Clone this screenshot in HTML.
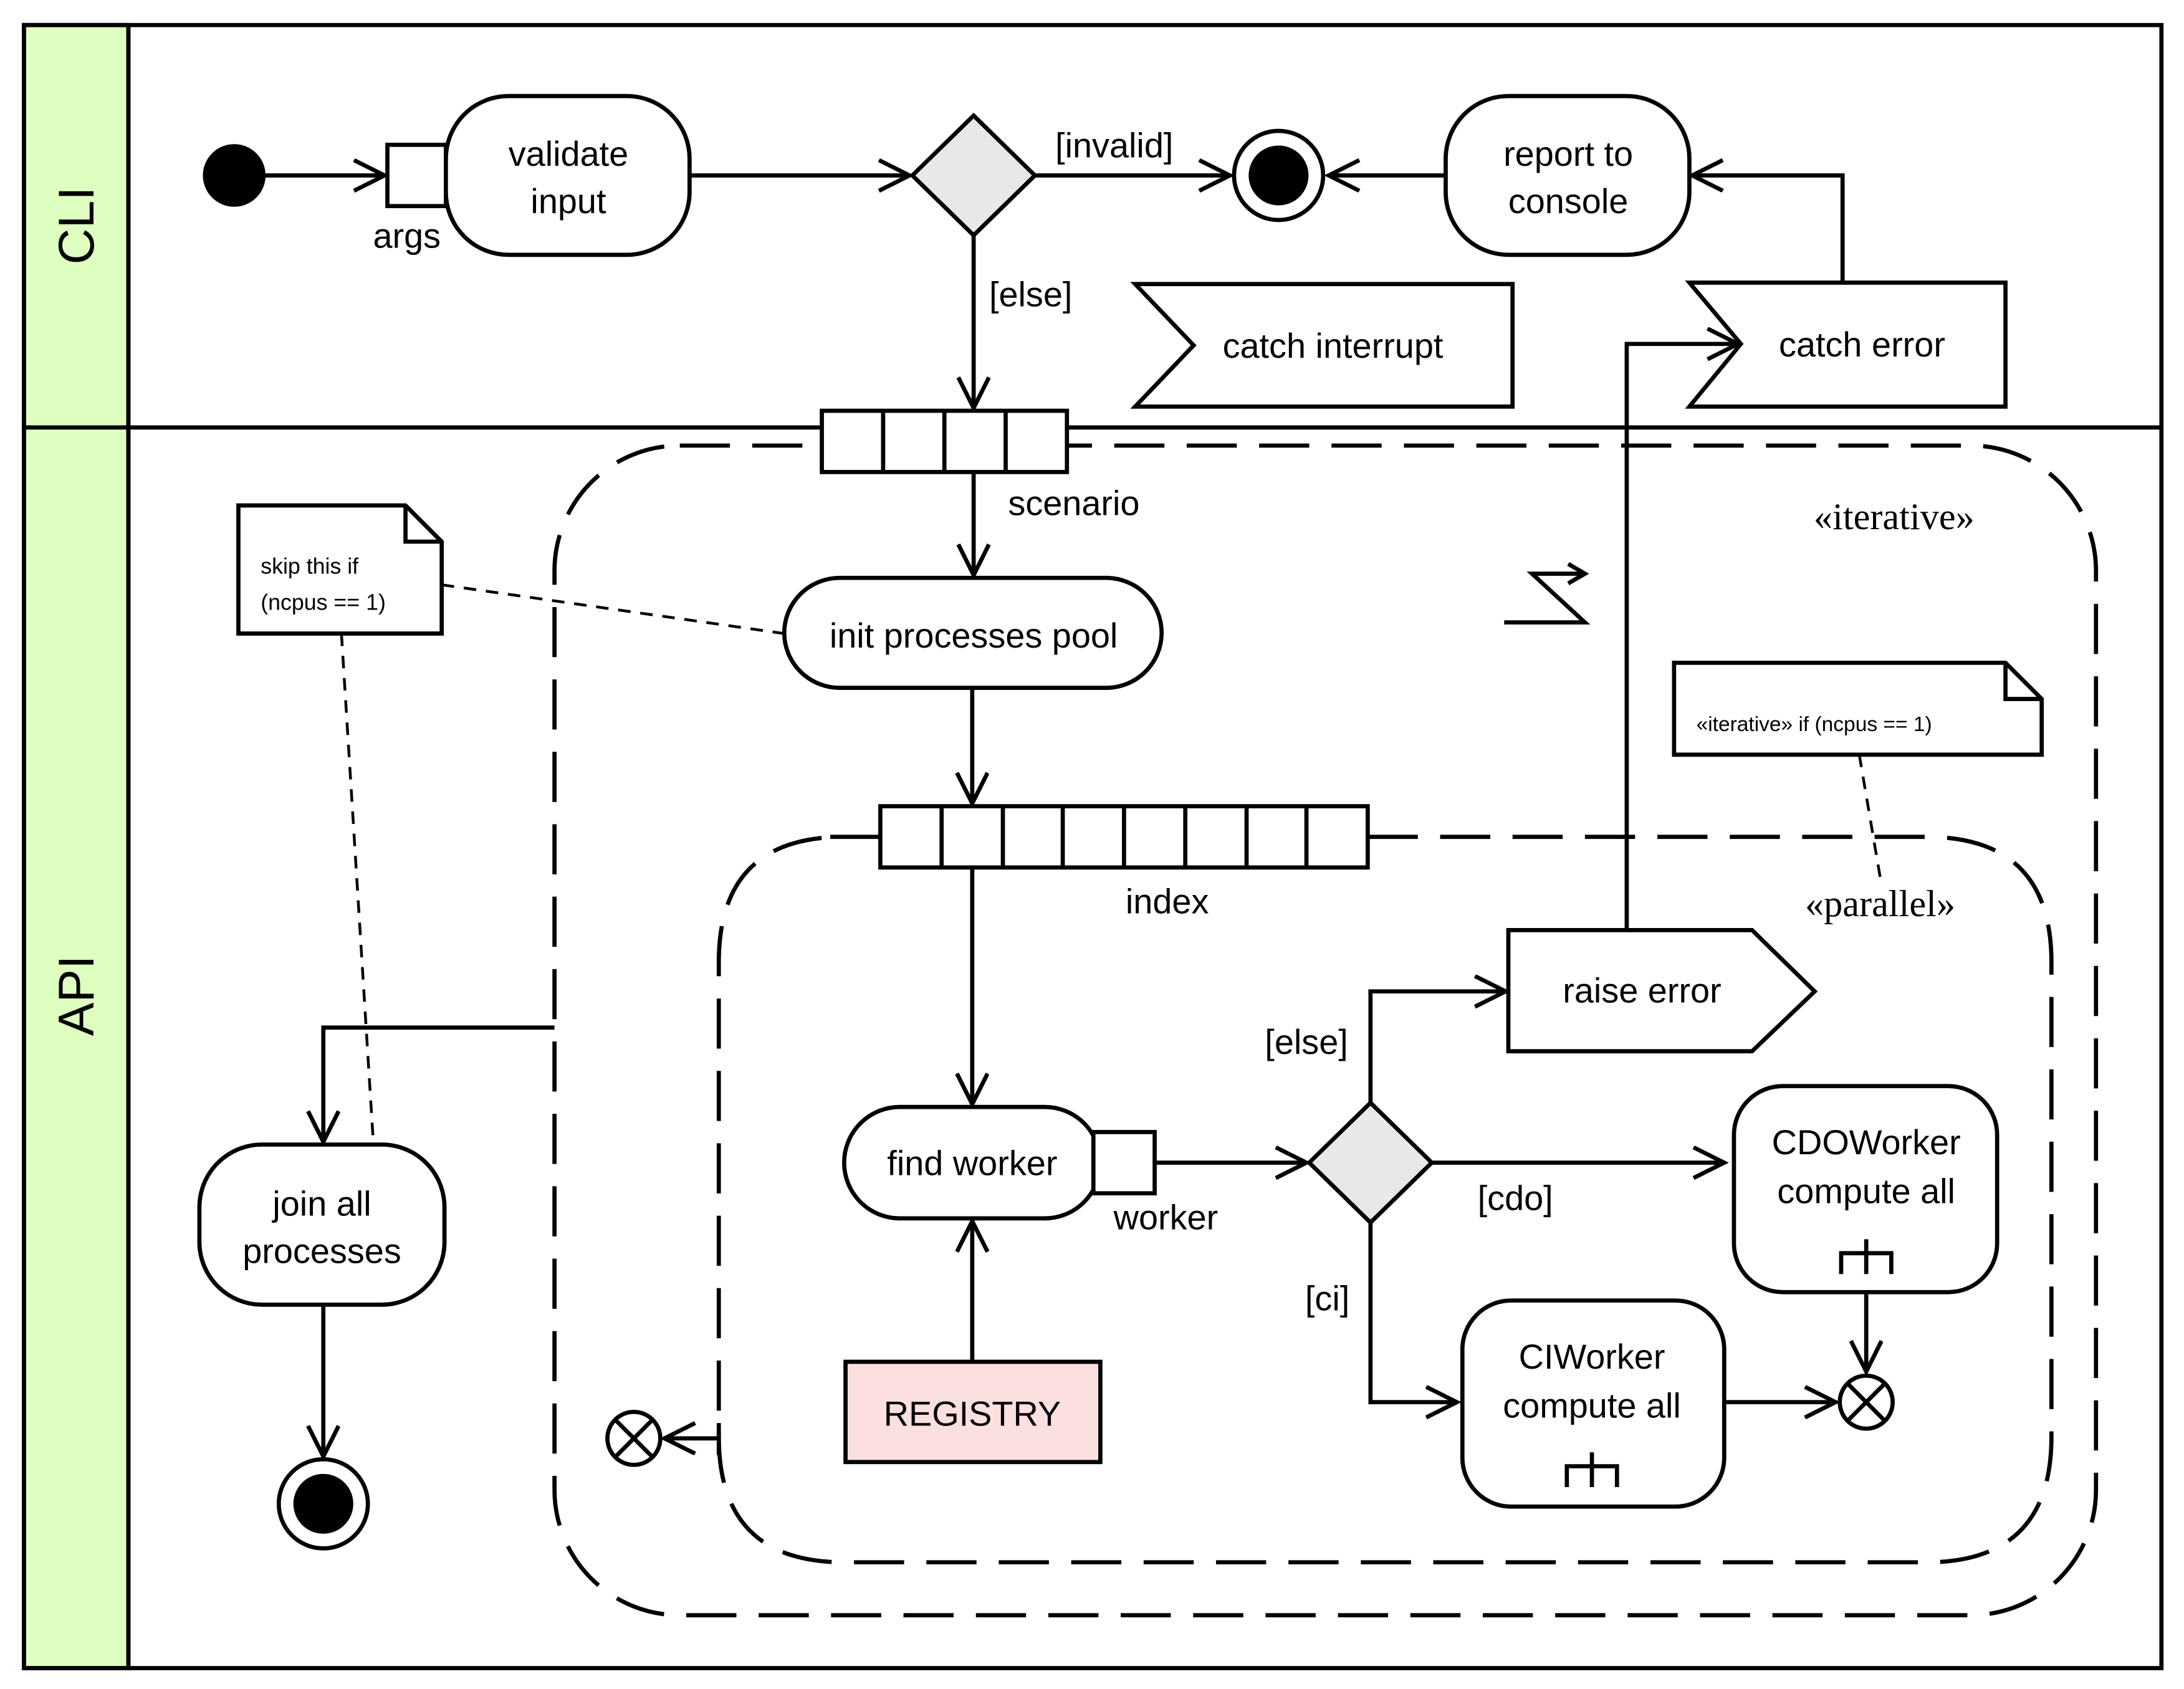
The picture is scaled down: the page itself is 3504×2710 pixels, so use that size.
<!DOCTYPE html>
<html><head><meta charset="utf-8"><style>
html,body{margin:0;padding:0;background:#fff}
svg{display:block}
text{font-family:"Liberation Sans","DejaVu Sans",sans-serif;fill:#000}
.s{font-family:"Liberation Serif",serif}
</style></head><body>
<svg width="3504" height="2710" viewBox="0 0 1568 1213" xmlns="http://www.w3.org/2000/svg">
<defs>
<marker id="a" markerWidth="30" markerHeight="30" refX="24" refY="12" orient="auto" markerUnits="userSpaceOnUse">
<polyline points="2,1 24,12 2,23" fill="none" stroke="#000" stroke-width="3"/>
</marker>
</defs>
<rect x="0" y="0" width="1568" height="1213" fill="#fff"/>
<g stroke="#000" stroke-width="3" fill="none">
<rect x="17" y="18" width="75" height="1180" fill="#dfffc0"/>
<rect x="17" y="18" width="1535" height="1180"/>
<line x1="17" y1="307" x2="1552" y2="307"/>
<line x1="92" y1="18" x2="92" y2="1198"/>
</g>
<text x="55" y="162" font-size="36" text-anchor="middle" transform="rotate(-90 55 162)" dy="12">CLI</text>
<text x="55" y="715" font-size="36" text-anchor="middle" transform="rotate(-90 55 715)" dy="12">API</text>

<!-- dashed regions -->
<g stroke="#000" stroke-width="3" fill="none" stroke-dasharray="36,16">
<rect x="398" y="320" width="1107" height="840" rx="90"/>
<path d="M596 601 L632 601 M982 601 L1383 601 Q1473 601 1473 691 L1473 1032 Q1473 1122 1383 1122 L606 1122 Q516 1122 516 1032 L516 691 Q516 601 606 601"/>
</g>

<g stroke="#000" stroke-width="3" fill="none">
<!-- CLI -->
<circle cx="168" cy="126" r="21" fill="#000"/>
<line x1="189" y1="126" x2="276" y2="126" marker-end="url(#a)"/>
<rect x="278" y="104" width="42" height="44" fill="#fff"/>
<rect x="320" y="69" width="175" height="114" rx="45" fill="#fff"/>
<line x1="495" y1="126" x2="653" y2="126" marker-end="url(#a)"/>
<polygon points="699,83 743,126 699,169 655,126" fill="#e8e8e8"/>
<line x1="743" y1="126" x2="883" y2="126" marker-end="url(#a)"/>
<circle cx="918" cy="126" r="32" fill="#fff"/>
<circle cx="918" cy="126" r="20" fill="#000"/>
<rect x="1038" y="69" width="175" height="114" rx="45" fill="#fff"/>
<line x1="1038" y1="126" x2="954" y2="126" marker-end="url(#a)"/>
<polygon points="1213,203 1440,203 1440,292 1213,292 1250,247" fill="#fff"/>
<polyline points="1323,203 1323,126 1215,126" marker-end="url(#a)"/>
<polygon points="815,204 1086,204 1086,292 815,292 857,248" fill="#fff"/>
<line x1="699" y1="169" x2="699" y2="293" marker-end="url(#a)"/>
<!-- scenario pins -->
<rect x="590" y="295" width="176" height="44" fill="#fff"/>
<line x1="634" y1="295" x2="634" y2="339"/><line x1="678" y1="295" x2="678" y2="339"/><line x1="722" y1="295" x2="722" y2="339"/>
<line x1="699" y1="339" x2="699" y2="413" marker-end="url(#a)"/>
<!-- lightning -->
<polyline points="1080,447 1138,447 1100,412 1138,412" stroke-width="3"/>
<polyline points="1126,405 1138,412 1126,419"/>
<!-- note 1 -->
<path d="M171 363 L291 363 L317 389 L317 455 L171 455 Z" fill="#fff"/>
<path d="M291 363 L291 389 L317 389"/>
<!-- init -->
<rect x="563" y="415" width="271" height="79" rx="40" fill="#fff"/>
<line x1="698" y1="494" x2="698" y2="577" marker-end="url(#a)"/>
<rect x="632" y="579" width="350" height="44" fill="#fff"/>
<line x1="676" y1="579" x2="676" y2="623"/><line x1="720" y1="579" x2="720" y2="623"/><line x1="763" y1="579" x2="763" y2="623"/><line x1="807" y1="579" x2="807" y2="623"/><line x1="851" y1="579" x2="851" y2="623"/><line x1="895" y1="579" x2="895" y2="623"/><line x1="938" y1="579" x2="938" y2="623"/>
<!-- note 2 -->
<path d="M1202 476 L1440 476 L1466 502 L1466 542 L1202 542 Z" fill="#fff"/>
<path d="M1440 476 L1440 502 L1466 502"/>
<line x1="698" y1="623" x2="698" y2="793" marker-end="url(#a)"/>
<rect x="606" y="795" width="184" height="80" rx="40" fill="#fff"/>
<rect x="785" y="813" width="44" height="44" fill="#fff"/>
<rect x="607" y="978" width="183" height="72" fill="#fce0e0"/>
<line x1="698" y1="978" x2="698" y2="877" marker-end="url(#a)"/>
<line x1="829" y1="835" x2="938" y2="835" marker-end="url(#a)"/>
<polygon points="984,792 1028,835 984,878 940,835" fill="#e8e8e8"/>
<polyline points="984,792 984,712 1081,712" marker-end="url(#a)"/>
<polygon points="1083,668 1258,668 1303,712 1258,755 1083,755" fill="#fff"/>
<polyline points="1168,668 1168,247 1248,247" marker-end="url(#a)"/>
<line x1="1028" y1="835" x2="1238" y2="835" marker-end="url(#a)"/>
<rect x="1245" y="780" width="189" height="148" rx="35" fill="#fff"/>
<polyline points="984,878 984,1007 1046,1007" marker-end="url(#a)"/>
<rect x="1050" y="934" width="188" height="148" rx="35" fill="#fff"/>
<line x1="1238" y1="1007" x2="1318" y2="1007" marker-end="url(#a)"/>
<line x1="1340" y1="928" x2="1340" y2="985" marker-end="url(#a)"/>
<circle cx="1340" cy="1007" r="19" fill="#fff"/>
<line x1="1327" y1="994" x2="1353" y2="1020"/><line x1="1353" y1="994" x2="1327" y2="1020"/>
<!-- rakes -->
<path d="M1340 890 L1340 915 M1322 915 L1322 900 L1358 900 L1358 915"/>
<path d="M1143 1043 L1143 1068 M1125 1068 L1125 1053 L1161 1053 L1161 1068"/>
<!-- left flow final -->
<line x1="516" y1="1022" x2="516" y2="1045"/>
<line x1="516" y1="1033" x2="477" y2="1033" marker-end="url(#a)"/>
<circle cx="455" cy="1033" r="19" fill="#fff"/>
<line x1="442" y1="1020" x2="468" y2="1046"/><line x1="468" y1="1020" x2="442" y2="1046"/>
<polyline points="398,738 232,738 232,820" marker-end="url(#a)"/>
<rect x="143" y="822" width="176" height="115" rx="45" fill="#fff"/>
<line x1="232" y1="937" x2="232" y2="1046" marker-end="url(#a)"/>
<circle cx="232" cy="1080" r="32" fill="#fff"/>
<circle cx="232" cy="1080" r="20" fill="#000"/>
</g>
<g stroke="#000" stroke-width="2" fill="none" stroke-dasharray="9,7">
<line x1="317" y1="420" x2="563" y2="455"/>
<line x1="245" y1="455" x2="268" y2="822"/>
<line x1="1335" y1="542" x2="1350" y2="630"/>
</g>

<g font-size="25" text-anchor="middle">
<text x="292" y="178">args</text>
<text x="408" y="119">validate</text><text x="408" y="153">input</text>
<text x="800" y="113">[invalid]</text>
<text x="1126" y="119">report to</text><text x="1126" y="153">console</text>
<text x="1337" y="256">catch error</text>
<text x="957" y="257">catch interrupt</text>
<text x="740" y="220">[else]</text>
<text x="771" y="370">scenario</text>
<text x="699" y="465">init processes pool</text>
<text x="838" y="656">index</text>
<text x="698" y="844">find worker</text>
<text x="837" y="883">worker</text>
<text x="698" y="1024">REGISTRY</text>
<text x="938" y="757">[else]</text>
<text x="1179" y="720">raise error</text>
<text x="1088" y="869">[cdo]</text>
<text x="953" y="941">[ci]</text>
<text x="1340" y="829">CDOWorker</text><text x="1340" y="864">compute all</text>
<text x="1143" y="983">CIWorker</text><text x="1143" y="1018">compute all</text>
<text x="231" y="873">join all</text><text x="231" y="907">processes</text>
</g>
<text x="1360" y="380" font-size="27" text-anchor="middle" class="s">«iterative»</text>
<text x="1350" y="658" font-size="27" text-anchor="middle" class="s">«parallel»</text>
<text x="187" y="412" font-size="16">skip this if</text>
<text x="187" y="438" font-size="16">(ncpus == 1)</text>
<text x="1218" y="525" font-size="15">«iterative» if (ncpus == 1)</text>
</svg>
</body></html>
